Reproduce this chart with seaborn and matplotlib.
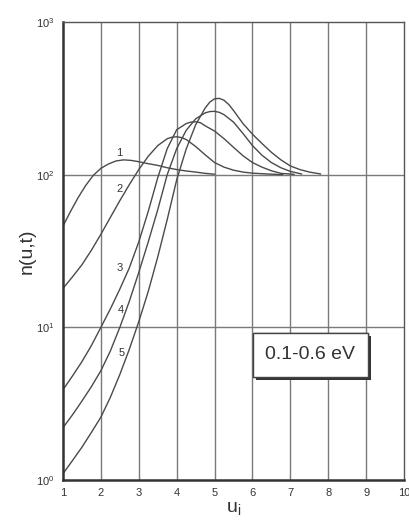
"""
n(u,t) curves 1-5 on a log scale, redrawn with seaborn.
"""
import matplotlib
matplotlib.use("Agg")
import matplotlib.pyplot as plt
import matplotlib.patheffects as pe
from matplotlib.patches import Rectangle
import pandas as pd
import seaborn as sns

# ── Data ──────────────────────────────────────────────────────────────────────
u_1 = [1.0, 1.2, 1.4, 1.6, 1.8, 2.0, 2.2, 2.4, 2.6, 2.8, 3.0, 3.25, 3.5, 3.75, 4.0,
       4.25, 4.5, 4.75, 5.0]
n_1 = [46, 57.5, 70.8, 85, 99, 110, 117.5, 123, 125, 124, 121.6, 118, 115, 111, 108,
       105.7, 104, 102, 100.7]

u_2 = [1.0, 1.25, 1.5, 1.75, 2.0, 2.25, 2.5, 2.75, 3.0, 3.25, 3.5, 3.75, 3.875, 4.0,
       4.125, 4.25, 4.5, 4.75, 5.0, 5.25, 5.5, 5.75, 6.0, 6.4, 6.8]
n_2 = [18, 21.4, 25.7, 32, 40.7, 52.5, 67.6, 86, 108, 132, 155, 172, 176, 177,
       175, 170, 153, 135, 120, 112, 107, 104, 102.3, 101, 100]

u_3 = [1.0, 1.25, 1.5, 1.75, 2.0, 2.25, 2.5, 2.75, 3.0, 3.25, 3.5, 3.75, 4.0, 4.25,
       4.375, 4.5, 4.625, 4.75, 5.0, 5.25, 5.5, 5.75, 6.0, 6.25, 6.5, 6.75, 7.1]
n_3 = [3.9, 4.8, 5.96, 7.6, 10, 13.2, 17.8, 24.5, 36.3, 57.5, 95.5, 148, 197, 216,
       221, 222, 219, 209, 193, 172, 151, 133, 120, 112, 106, 102, 100.5]

u_4 = [1.0, 1.25, 1.5, 1.75, 2.0, 2.25, 2.5, 2.75, 3.0, 3.25, 3.5, 3.75, 4.0, 4.25,
       4.5, 4.75, 4.875, 5.0, 5.125, 5.25, 5.5, 5.75, 6.0, 6.25, 6.5, 6.75, 7.0, 7.3]
n_4 = [2.2, 2.67, 3.29, 4.09, 5.2, 7.0, 10, 14.8, 22.9, 36.3, 58.9, 100, 148, 195,
       232, 254, 259, 260, 256, 247, 221, 186, 155, 134, 120, 111, 105, 101]

u_5 = [1.0, 1.25, 1.5, 1.75, 2.0, 2.25, 2.5, 2.75, 3.0, 3.25, 3.5, 3.75, 4.0, 4.25,
       4.5, 4.75, 4.875, 5.0, 5.125, 5.25, 5.375, 5.5, 5.75, 6.0, 6.25, 6.5, 6.75,
       7.0, 7.25, 7.5, 7.8]
n_5 = [1.1, 1.34, 1.64, 2.05, 2.58, 3.48, 4.91, 7.18, 10.9, 17.2, 28.9, 50.8, 92.5, 147,
       212, 273, 299, 314, 316, 307, 288, 263, 216, 184, 160, 140, 125,
       114, 108, 104, 101]

curve_names = ["1", "2", "3", "4", "5"]
# where each number sits next to its curve
label_u = [2.48, 2.48, 2.5, 2.53, 2.55]
label_n = [139, 81, 24.3, 12.9, 6.75]

x_ticks = list(range(1, 11))
y_ticks = [1, 10, 100, 1000]
box_text = "0.1-0.6 eV"

# ── Long-form table for seaborn ───────────────────────────────────────────────
frames = []
for name, u, n in zip(curve_names, [u_1, u_2, u_3, u_4, u_5], [n_1, n_2, n_3, n_4, n_5]):
    frames.append(pd.DataFrame({"u": u, "n": n, "curve": name}))
df = pd.concat(frames, ignore_index=True)

sns.set_style("white")
plt.rcParams["font.family"] = ["Liberation Sans", "DejaVu Sans"]
plt.rcParams["mathtext.fontset"] = "custom"
plt.rcParams["mathtext.rm"] = "Liberation Sans"

ink = "#4a4a4a"
grid = "#7a7a7a"

fig = plt.figure(figsize=(4.09, 5.24), dpi=100)
ax = fig.add_axes([0.154, 0.084, 0.834, 0.874])

sns.lineplot(data=df, x="u", y="n", hue="curve", units="curve", estimator=None,
             palette=[ink] * 5, linewidth=1.0, legend=False, sort=False, ax=ax)

ax.set_yscale("log")
ax.set_xlim(1, 10)
ax.set_ylim(1, 1000)
ax.set_xticks(x_ticks)
ax.set_xticklabels([str(t) for t in x_ticks])
ax.set_yticks(y_ticks)
ax.set_yticks([], minor=True)
ax.tick_params(axis="both", length=0, labelsize=8, colors="#333333", pad=6)

for x in x_ticks[1:-1]:
    ax.axvline(x, color=grid, lw=1.0, zorder=0)
for y in y_ticks[1:-1]:
    ax.axhline(y, color=grid, lw=1.0, zorder=0)

for side in ["left", "bottom"]:
    ax.spines[side].set_color("#333333")
    ax.spines[side].set_linewidth(1.8)
for side in ["top", "right"]:
    ax.spines[side].set_color("#555555")
    ax.spines[side].set_linewidth(1.0)

for name, lu, ln in zip(curve_names, label_u, label_n):
    ax.text(lu, ln, name, fontsize=8, color="#333333", ha="center", va="center")

ax.set_xlabel("u$_\\mathregular{i}$", fontsize=14, color="#333333", labelpad=2)
ax.set_ylabel("n(u,t)", fontsize=14, color="#333333", labelpad=0)

# label box with a dark drop shadow on the right and bottom
box = Rectangle((0.557, 0.225), 0.337, 0.096, transform=ax.transAxes,
                facecolor="white", edgecolor="#444444", lw=1.0, zorder=5)
box.set_path_effects([pe.withSimplePatchShadow(offset=(2.5, -2.5), shadow_rgbFace="#333333", alpha=1.0),
                      pe.Normal()])
ax.add_patch(box)
ax.text(0.7255, 0.273, box_text, transform=ax.transAxes, fontsize=14,
        color="#333333", ha="center", va="center", zorder=6)

fig.savefig("out.png", dpi=100)
